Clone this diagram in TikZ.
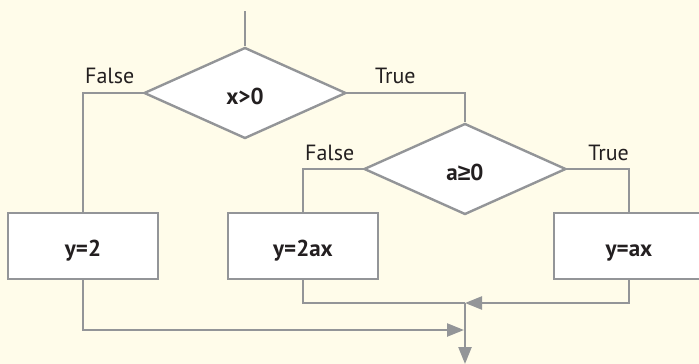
\documentclass[tikz,border=0pt]{standalone}
\usepackage{fontspec}
\setmainfont{PT Sans}
\newfontfamily\relfont{Liberation Sans}
\usetikzlibrary{shapes.geometric,arrows.meta}
\definecolor{linegray}{HTML}{939598}
\definecolor{paper}{HTML}{FFFCEA}
\definecolor{ink}{HTML}{231F20}
\tikzset{
  flow/.style={draw=linegray,line width=2.4pt},
  flowarrow/.style={flow,-{Triangle[length=17pt,width=13pt]}},
  test/.style={flow,diamond,fill=white,inner sep=0pt,minimum width=202pt,minimum height=91pt,
    text=ink,font=\fontsize{23}{27}\selectfont\bfseries,text height=23pt,text depth=0pt},
  action/.style={flow,rectangle,fill=white,minimum width=150pt,minimum height=66pt,
    text=ink,font=\fontsize{23}{27}\selectfont\bfseries,text height=21pt,text depth=0pt},
  branch/.style={inner sep=0pt,text=ink,font=\fontsize{22}{26}\selectfont}
}
\begin{document}
\begin{tikzpicture}[x=1pt,y=-1pt]
  \fill[paper] (0,0) rectangle (699,364);
  \useasboundingbox (0,0) rectangle (699,364);

  \coordinate (start) at (245,11);
  \node[test] (testx) at (245,93) {x>0};
  \node[test] (testa) at (465,169) {a{\relfont\bfseries ≥}0};
  \node[action] (ytwo) at (83,246) {y=2};
  \node[action] (ytwoax) at (303,246) {y=2ax};
  \node[action] (yax) at (629,246) {y=ax};
  \coordinate (merge) at (465,303);
  \coordinate (mergeb) at (465,330);
  \coordinate (stop) at (465,364);

  \node[branch,anchor=base west] (falsex) at (85,83) {False};
  \node[branch,anchor=base west] (truex) at (375,83) {True};
  \node[branch,anchor=base west] (falsea) at (305,160) {False};
  \node[branch,anchor=base east] (truea) at (629,160) {True};

  \draw[flow] (start) -- (testx.north);
  \draw[flow] (testx.west) -| (ytwo.north);
  \draw[flow] (testx.east) -| (testa.north);
  \draw[flow] (testa.west) -| (ytwoax.north);
  \draw[flow] (testa.east) -| (yax.north);
  \draw[flow] (ytwoax.south) |- (merge);
  \draw[flowarrow] (yax.south) |- (merge);
  \draw[flowarrow] (ytwo.south) |- ([xshift=-1pt]mergeb);
  \draw[flowarrow] (merge) -- (stop);
\end{tikzpicture}
\end{document}
